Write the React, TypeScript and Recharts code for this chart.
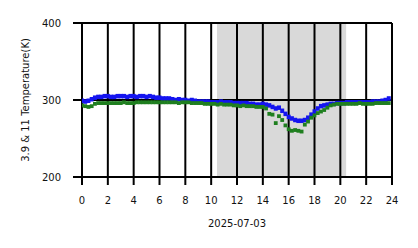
import React from 'react';
import { ScatterChart, Scatter, XAxis, YAxis, ReferenceArea, ReferenceLine, Label } from 'recharts';

const HOURS = [
  0, 0.25, 0.5, 0.75, 1, 1.25, 1.5, 1.75, 2, 2.25, 2.5, 2.75,
  3, 3.25, 3.5, 3.75, 4, 4.25, 4.5, 4.75, 5, 5.25, 5.5, 5.75,
  6, 6.25, 6.5, 6.75, 7, 7.25, 7.5, 7.75, 8, 8.25, 8.5, 8.75,
  9, 9.25, 9.5, 9.75, 10, 10.25, 10.5, 10.75, 11, 11.25, 11.5, 11.75,
  12, 12.25, 12.5, 12.75, 13, 13.25, 13.5, 13.75, 14, 14.25, 14.5, 14.75,
  15, 15.25, 15.5, 15.75, 16, 16.25, 16.5, 16.75, 17, 17.25, 17.5, 17.75,
  18, 18.25, 18.5, 18.75, 19, 19.25, 19.5, 19.75, 20, 20.25, 20.5, 20.75,
  21, 21.25, 21.5, 21.75, 22, 22.25, 22.5, 22.75, 23, 23.25, 23.5, 23.75,
];

// 3.9 µm band temperature (blue)
const T39 = [
  299, 298, 299, 301, 303, 304, 304, 305, 305, 304, 304, 305,
  305, 305, 304, 305, 305, 304, 305, 305, 304, 305, 304, 303,
  303, 302, 302, 302, 301, 300, 301, 300, 300, 299, 300, 299,
  298, 298, 298, 298, 297, 297, 297, 298, 297, 297, 297, 296,
  296, 296, 296, 296, 295, 295, 294, 294, 295, 294, 293, 291,
  289, 290, 286, 282, 278, 276, 274, 273, 273, 274, 277, 281,
  285, 289, 292, 293, 294, 295, 295, 296, 296, 296, 297, 297,
  297, 297, 297, 297, 297, 297, 298, 298, 298, 299, 300, 302,
];

// 11 µm band temperature (green)
const T11 = [
  293, 292, 291, 292, 295, 296, 296, 296, 296, 296, 296, 296,
  296, 297, 296, 296, 296, 297, 297, 297, 297, 297, 297, 297,
  297, 297, 297, 297, 297, 297, 296, 297, 297, 297, 296, 296,
  296, 296, 295, 295, 295, 295, 294, 295, 294, 294, 294, 293,
  293, 292, 293, 292, 292, 292, 291, 291, 291, 289, 282, 281,
  270, 279, 274, 267, 262, 260, 261, 260, 259, 268, 272, 277,
  280, 283, 285, 287, 290, 293, 294, 295, 295, 295, 295, 295,
  295, 295, 296, 295, 295, 295, 295, 296, 296, 296, 296, 296,
];

const HOUR_TICKS = [0, 2, 4, 6, 8, 10, 12, 14, 16, 18, 20, 22, 24];
const TEMP_TICKS = [200, 300, 400];
const SPAN = [10.45, 20.45];
const X_LABEL = '2025-07-03';
const Y_LABEL = '3.9 & 11 Temperature(K)';

const blueData = HOURS.map((h, i) => ({ h, t: T39[i] }));
const greenData = HOURS.map((h, i) => ({ h, t: T11[i] }));

const makeSquare = (color: string, w: number, hgt: number) => (props: any) => (
  <rect x={props.cx - w / 2} y={props.cy - hgt / 2} width={w} height={hgt} fill={color} />
);

const FONT = 'DejaVu Sans';
const tickStyle = { fontSize: 10, fill: '#111', fontFamily: FONT };

export default function App() {
  return (
    <ScatterChart width={410} height={240} margin={{ top: 15, right: 26, bottom: 21, left: 0 }}>
      <XAxis
        type="number"
        dataKey="h"
        domain={[0, 24]}
        ticks={HOUR_TICKS}
        interval={0}
        allowDataOverflow
        axisLine={false}
        tickLine={{ stroke: '#000', strokeWidth: 2 }}
        tickSize={8}
        tickMargin={12}
        tick={tickStyle}
        height={50}
      >
        <Label value={X_LABEL} position="insideBottom" offset={0} style={{ fontSize: 10, fill: '#111', fontFamily: FONT }} />
      </XAxis>
      <YAxis
        type="number"
        dataKey="t"
        domain={[200, 400]}
        ticks={TEMP_TICKS}
        interval={0}
        allowDataOverflow
        axisLine={false}
        tickLine={{ stroke: '#000', strokeWidth: 2 }}
        tickSize={9}
        tickMargin={12}
        tick={tickStyle}
        width={74}
      >
        <Label value={Y_LABEL} angle={-90} position="insideLeft" offset={17} style={{ textAnchor: 'middle', fontSize: 10, fill: '#111', fontFamily: FONT }} />
      </YAxis>
      <ReferenceArea x1={SPAN[0]} x2={SPAN[1]} y1={200} y2={400} fill="#d9d9d9" fillOpacity={1} stroke="none" />
      <Scatter data={blueData} fill="#0000ff" shape={makeSquare('#1414f0', 4, 4.5)} isAnimationActive={false} />
      <Scatter data={greenData} fill="#228b22" shape={makeSquare('#1f7f1f', 3.8, 3.8)} isAnimationActive={false} />
      {HOUR_TICKS.map((h) => (
        <ReferenceLine key={'v' + h} x={h} stroke="#000" strokeWidth={2} />
      ))}
      {TEMP_TICKS.map((t) => (
        <ReferenceLine key={'hz' + t} y={t} stroke="#000" strokeWidth={2} />
      ))}
    </ScatterChart>
  );
}
